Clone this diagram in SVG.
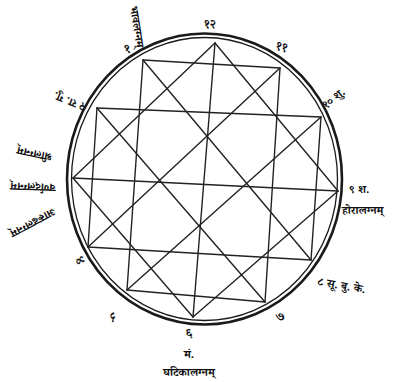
<svg xmlns="http://www.w3.org/2000/svg" width="394" height="382" viewBox="0 0 394 382">
<style>
.ring1{fill:none;stroke:#1a1a1a;stroke-width:2.6}
.ring2{fill:none;stroke:#1a1a1a;stroke-width:1.3}
.ln{stroke:#222;stroke-width:1.4;stroke-linecap:round;fill:none}
text{font-family:"Noto Serif Devanagari","Noto Sans Devanagari","Lohit Devanagari","Mangal","Noto Sans",serif;fill:#111;font-weight:bold}
.num{font-size:13px}
.lbl{font-size:11.5px}
</style>
<rect width="394" height="382" fill="#fff"/>
<g id="circle">
<ellipse class="ring1" cx="204.5" cy="179" rx="137.5" ry="145.5"/>
<ellipse class="ring2" cx="204.5" cy="179" rx="133" ry="141.5"/>
</g>
<g id="connectors">
<line class="ln" x1="143" y1="60" x2="280" y2="68"/>
<line class="ln" x1="97" y1="108" x2="321" y2="117"/>
<line class="ln" x1="73" y1="178" x2="338" y2="191"/>
<line class="ln" x1="88" y1="247" x2="311" y2="260"/>
<line class="ln" x1="127" y1="290" x2="265" y2="302"/>
<line class="ln" x1="143" y1="60" x2="127" y2="290"/>
<line class="ln" x1="97" y1="108" x2="88" y2="247"/>
<line class="ln" x1="215" y1="43" x2="193" y2="317"/>
<line class="ln" x1="280" y1="68" x2="265" y2="302"/>
<line class="ln" x1="321" y1="117" x2="311" y2="260"/>
<line class="ln" x1="215" y1="43" x2="338" y2="191"/>
<line class="ln" x1="143" y1="60" x2="311" y2="260"/>
<line class="ln" x1="97" y1="108" x2="265" y2="302"/>
<line class="ln" x1="73" y1="178" x2="193" y2="317"/>
<line class="ln" x1="215" y1="43" x2="73" y2="178"/>
<line class="ln" x1="280" y1="68" x2="88" y2="247"/>
<line class="ln" x1="321" y1="117" x2="127" y2="290"/>
<line class="ln" x1="338" y1="191" x2="193" y2="317"/>
</g>
<g id="house12"><text class="num" x="210" y="28" text-anchor="middle">१२</text></g>
<g id="house11"><text class="num" x="282" y="51" text-anchor="middle" transform="rotate(15 282 46)">११</text></g>
<g id="house10"><text class="lbl" x="326" y="109" transform="rotate(-38 326 109)">१० शु.</text></g>
<g id="house9">
<text class="lbl" x="349" y="193">९ श.</text>
<text class="lbl" x="342" y="214">होरालग्नम्</text>
</g>
<g id="house8"><text class="lbl" x="317" y="285" transform="rotate(10 317 285)">८ सू. बु. के.</text></g>
<g id="house7"><text class="num" x="280" y="321" text-anchor="middle" transform="rotate(-25 280 316)">७</text></g>
<g id="house6">
<text class="num" x="189" y="337" text-anchor="middle">६</text>
<text class="lbl" x="189" y="358" text-anchor="middle">मं.</text>
<text class="lbl" x="189" y="376" text-anchor="middle">घटिकालग्नम्</text>
</g>
<g id="house5"><text class="num" x="113" y="321" text-anchor="middle" transform="rotate(35 113 316)">५</text></g>
<g id="house4"><text class="num" x="81" y="265" text-anchor="middle" transform="rotate(60 81 260)">४</text></g>
<g id="house3">
<text class="lbl" x="35" y="152" text-anchor="middle" dominant-baseline="central" transform="rotate(192 35 152)">श्रीलग्नम्</text>
<text class="lbl" x="33" y="185" text-anchor="middle" dominant-baseline="central" transform="rotate(182 33 185)">वर्णदलग्नम्</text>
<text class="lbl" x="32" y="221" text-anchor="middle" dominant-baseline="central" transform="rotate(152 32 221)">आरूढलग्नम्</text>
</g>
<g id="house2"><text class="lbl" x="86" y="104" transform="rotate(202 86 104)">२ रा. गु.</text></g>
<g id="house1">
<text class="num" x="127" y="53" text-anchor="middle" transform="rotate(-15 127 48)">१</text>
<text class="lbl" x="135" y="27" text-anchor="middle" dominant-baseline="central" transform="rotate(81 135 27)">भावलग्नम्</text>
</g>
</svg>
